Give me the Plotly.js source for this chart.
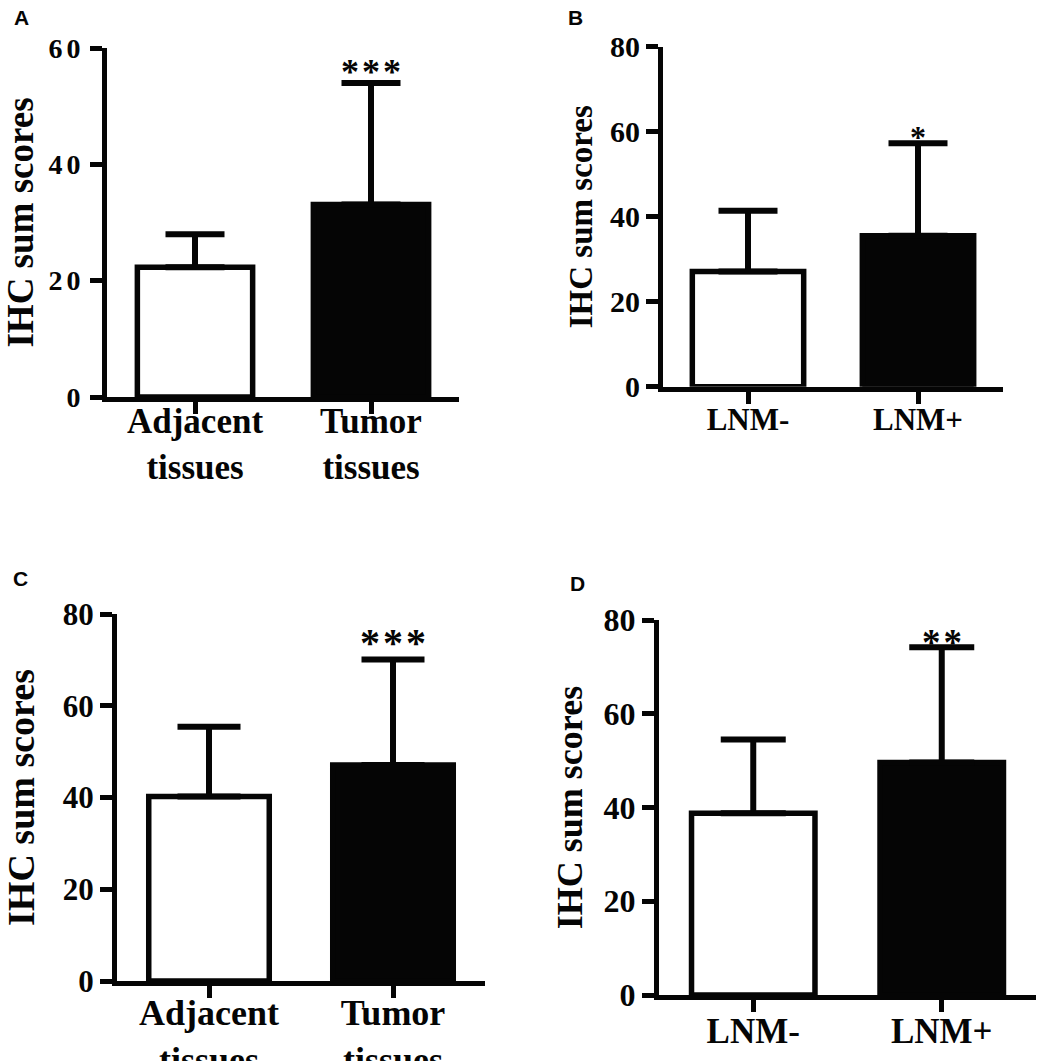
<!DOCTYPE html>
<html>
<head>
<meta charset="utf-8">
<script src="https://cdn.plot.ly/plotly-3.0.1.min.js"></script>
<style>
  html, body { margin: 0; padding: 0; background: #fff; }
  #chart { width: 1039px; height: 1061px; }
  .ytick text { letter-spacing: 4px; }
  .annotation-text { letter-spacing: 3px; }
</style>
</head>
<body>
<div id="chart"></div>
<script>
// ---- Data ----
const catsTissue = ["Adjacent tissues", "Tumor tissues"];
const catsLNM = ["LNM-", "LNM+"];
const tickTissue = ["Adjacent<br>tissues", "Tumor<br>tissues"];
const tickLNM = ["LNM-", "LNM+"];

const meanA = [22.3, 33.1];
const sdA = [5.7, 20.9];
const sigA = ["", "***"];

const meanB = [27.1, 35.5];
const sdB = [14.3, 21.8];
const sigB = ["", "*"];

const meanC = [40.2, 47.1];
const sdC = [15.2, 23.0];
const sigC = ["", "***"];

const meanD = [38.8, 49.6];
const sdD = [15.7, 24.6];
const sigD = ["", "**"];

const yTicksA = [0, 20, 40, 60];
const yTicks80 = [0, 20, 40, 60, 80];

// ---- Styling helpers ----
const SERIF = "Liberation Serif, Times New Roman, serif";
const W = 1039, H = 1061;
const barFill = ["#ffffff", "#050505"];

function barTrace(cats, mean, sd, xa, ya, capHalf) {
  return {
    type: "bar",
    x: cats,
    y: mean,
    xaxis: xa,
    yaxis: ya,
    width: 0.655,
    marker: { color: barFill, line: { color: "#050505", width: 5.5 } },
    error_y: {
      type: "data",
      symmetric: false,
      array: sd,
      arrayminus: sd.map(() => 0),
      color: "#050505",
      thickness: 6,
      width: capHalf
    },
    hoverinfo: "none",
    showlegend: false
  };
}

function xAxis(domainPx, cats, ticks, fontSize, standoff, anchor) {
  return {
    domain: [domainPx[0] / W, domainPx[1] / W],
    anchor: anchor,
    type: "category",
    categoryorder: "array",
    categoryarray: cats,
    tickvals: cats,
    ticktext: ticks,
    range: [-0.5, 1.5],
    showline: true, linecolor: "#050505", linewidth: 5,
    ticks: "outside", ticklen: 12, tickwidth: 5, tickcolor: "#050505",
    ticklabelstandoff: standoff,
    showgrid: false, zeroline: false, fixedrange: true,
    tickfont: { family: SERIF, size: fontSize, color: "#050505", weight: "bold" }
  };
}

function yAxis(domainPx, ticks, top, fontSize, titleSize, standoff, anchor) {
  return {
    domain: [1 - domainPx[1] / H, 1 - domainPx[0] / H],
    anchor: anchor,
    range: [0, top],
    tickvals: ticks,
    ticktext: ticks.map(String),
    showline: true, linecolor: "#050505", linewidth: 5,
    ticks: "outside", ticklen: 12, tickwidth: 5, tickcolor: "#050505",
    showgrid: false, zeroline: false, fixedrange: true,
    tickfont: { family: SERIF, size: fontSize, color: "#050505", weight: "bold" },
    title: {
      text: "IHC sum scores",
      font: { family: SERIF, size: titleSize, color: "#050505", weight: "bold" },
      standoff: standoff
    }
  };
}

function sigAnn(cats, mean, sd, sig, xref, yref, size, shift) {
  return cats.map((c, i) => ({
    x: c, y: mean[i] + sd[i], xref: xref, yref: yref,
    text: sig[i], showarrow: false, yanchor: "middle", yshift: shift, xshift: 1.5,
    font: { family: SERIF, size: size, color: "#050505", weight: "bold" }
  })).filter(a => a.text);
}

function panelLabel(t, xpx, ypx) {
  return {
    text: t, xref: "paper", yref: "paper", x: xpx / W, y: 1 - ypx / H,
    xanchor: "center", yanchor: "middle", showarrow: false,
    font: { family: "Liberation Sans, Arial, sans-serif", size: 21, color: "#050505", weight: "bold" }
  };
}

const data = [
  barTrace(catsTissue, meanA, sdA, "x", "y", 29.5),
  barTrace(catsLNM, meanB, sdB, "x2", "y2", 29.5),
  barTrace(catsTissue, meanC, sdC, "x3", "y3", 31.5),
  barTrace(catsLNM, meanD, sdD, "x4", "y4", 32.5)
];

const layout = {
  width: W, height: H,
  margin: { l: 0, r: 0, t: 0, b: 0 },
  paper_bgcolor: "#ffffff",
  plot_bgcolor: "rgba(0,0,0,0)",
  showlegend: false,
  xaxis: xAxis([107, 459], catsTissue, tickTissue, 35, -23, "y"),
  yaxis: yAxis([48, 397], yTicksA, 60, 28, 37, 21, "x"),
  xaxis2: xAxis([663, 1003], catsLNM, tickLNM, 31, -11, "y2"),
  yaxis2: yAxis([46.7, 386.7], yTicks80, 80, 30, 33, 9, "x2"),
  xaxis3: xAxis([117, 485], catsTissue, tickTissue, 36, -16, "y3"),
  yaxis3: yAxis([614, 981], yTicks80, 80, 31, 38, 19, "x3"),
  xaxis4: xAxis([659, 1036], catsLNM, tickLNM, 35, -11, "y4"),
  yaxis4: yAxis([620, 995], yTicks80, 80, 32, 36, 11, "x4"),
  annotations: [].concat(
    sigAnn(catsTissue, meanA, sdA, sigA, "x", "y", 36, 11),
    sigAnn(catsLNM, meanB, sdB, sigB, "x2", "y2", 32, 6),
    sigAnn(catsTissue, meanC, sdC, sigC, "x3", "y3", 40, 17),
    sigAnn(catsLNM, meanD, sdD, sigD, "x4", "y4", 37, 5),
    [panelLabel("A", 23, 17), panelLabel("B", 577, 17), panelLabel("C", 22, 578), panelLabel("D", 579, 583)]
  )
};

Plotly.newPlot("chart", data, layout, { staticPlot: true, displayModeBar: false });
</script>
</body>
</html>
